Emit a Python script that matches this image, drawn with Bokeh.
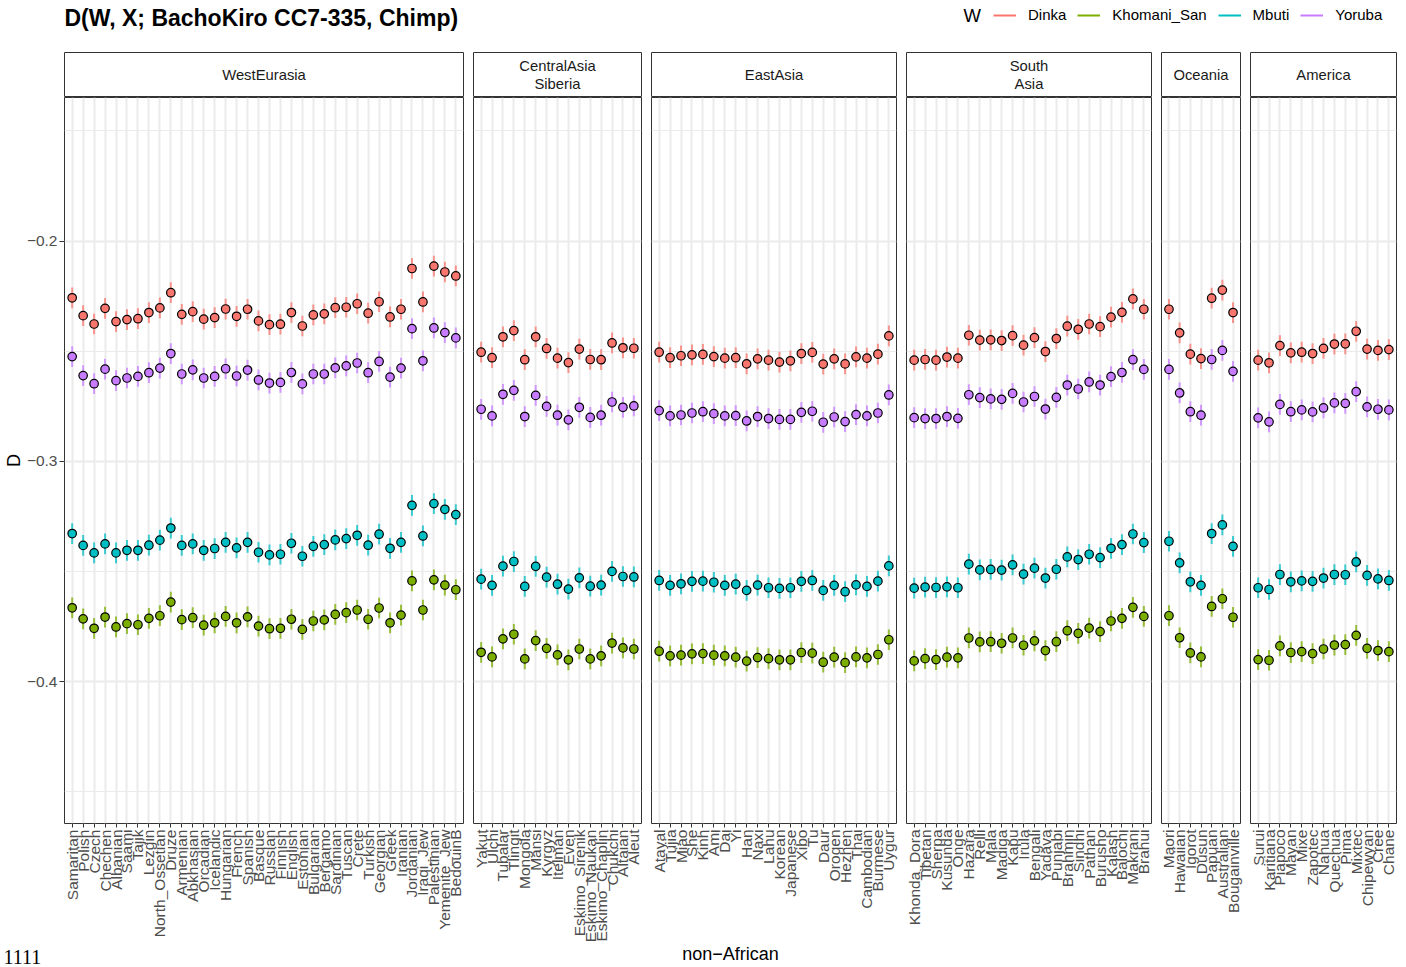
import math
from bokeh.plotting import figure
from bokeh.layouts import column, row
from bokeh.models import (FactorRange, Range1d, FixedTicker, Grid, Legend, LegendItem,
                          ColumnDataSource, CustomJSTickFormatter)
from bokeh.core.properties import value
from bokeh.embed import file_html
from bokeh.resources import INLINE

FONT = "Liberation Sans"

TITLE = "D(W, X; BachoKiro CC7-335, Chimp)"
X_TITLE = "non\u2212African"
Y_TITLE = "D"
LEGEND_TITLE = "W"
CORNER_TEXT = "1111"

REGIONS = ["WestEurasia", "CentralAsia\nSiberia", "EastAsia", "South\nAsia", "Oceania", "America"]

POP_WE = ["Samaritan", "Polish", "Czech", "Chechen", "Albanian", "Saami", "Tajik", "Lezgin",
          "North_Ossetian", "Druze", "Armenian", "Abkhasian", "Orcadian", "Icelandic", "Hungarian",
          "French", "Spanish", "Basque", "Russian", "Finnish", "English", "Estonian", "Bulgarian",
          "Bergamo", "Sardinian", "Tuscan", "Crete", "Turkish", "Georgian", "Greek", "Iranian",
          "Jordanian", "Iraqi_Jew", "Palestinian", "Yemenite_Jew", "BedouinB"]
POP_CS = ["Yakut", "Ulchi", "Tubalar", "Tlingit", "Mongola", "Mansi", "Kyrgyz", "Itelman", "Even",
          "Eskimo_Sirenik", "Eskimo_Naukan", "Eskimo_Chaplin", "Chukchi", "Altaian", "Aleut"]
POP_EA = ["Atayal", "Tujia", "Miao", "She", "Kinh", "Ami", "Dai", "Yi", "Han", "Naxi", "Lahu",
          "Korean", "Japanese", "Xibo", "Tu", "Daur", "Oroqen", "Hezhen", "Thai", "Cambodian",
          "Burmese", "Uygur"]
POP_SA = ["Khonda_Dora", "Tibetan", "Sherpa", "Kusunda", "Onge", "Hazara", "Relli", "Mala", "Madiga",
          "Kapu", "Irula", "Bengali", "Yadava", "Punjabi", "Brahmin", "Sindhi", "Pathan", "Burusho",
          "Kalash", "Balochi", "Makrani", "Brahui"]
POP_OC = ["Maori", "Hawaiian", "Igorot", "Dusun", "Papuan", "Australian", "Bougainville"]
POP_AM = ["Surui", "Karitiana", "Piapoco", "Mayan", "Mixe", "Zapotec", "Nahua", "Quechua", "Pima",
          "Mixtec", "Chipewyan", "Cree", "Chane"]

W_LEVELS = ["Dinka", "Khomani_San", "Mbuti", "Yoruba"]
W_COLORS = ["#F8766D", "#7CAE00", "#00BFC4", "#C77CFF"]

DINKA = {
    "WE": [-0.2257, -0.2338, -0.2376, -0.2305, -0.2365, -0.2356, -0.2352, -0.2324, -0.2303, -0.2234,
           -0.2332, -0.2320, -0.2354, -0.2347, -0.2308, -0.2341, -0.2309, -0.2362, -0.2379, -0.2377,
           -0.2324, -0.2385, -0.2335, -0.2330, -0.2302, -0.2300, -0.2284, -0.2327, -0.2275, -0.2344,
           -0.2309, -0.2124, -0.2276, -0.2113, -0.2140, -0.2158],
    "CS": [-0.2504, -0.2529, -0.2434, -0.2406, -0.2538, -0.2434, -0.2487, -0.2531, -0.2551, -0.2490,
           -0.2537, -0.2538, -0.2462, -0.2484, -0.2486],
    "EA": [-0.2504, -0.2529, -0.2520, -0.2516, -0.2514, -0.2524, -0.2531, -0.2529, -0.2557, -0.2534,
           -0.2540, -0.2549, -0.2543, -0.2510, -0.2505, -0.2558, -0.2534, -0.2557, -0.2525, -0.2531,
           -0.2513, -0.2430],
    "SA": [-0.2540, -0.2537, -0.2540, -0.2526, -0.2531, -0.2427, -0.2449, -0.2448, -0.2451, -0.2429,
           -0.2472, -0.2438, -0.2501, -0.2442, -0.2386, -0.2400, -0.2376, -0.2388, -0.2345, -0.2323,
           -0.2262, -0.2309],
    "OC": [-0.2309, -0.2416, -0.2513, -0.2533, -0.2259, -0.2222, -0.2324],
    "AM": [-0.2540, -0.2552, -0.2474, -0.2507, -0.2504, -0.2510, -0.2487, -0.2467, -0.2466, -0.2409,
           -0.2490, -0.2496, -0.2492],
}
KHOMANI_SAN = {
    "WE": [-0.3664, -0.3714, -0.3757, -0.3706, -0.3751, -0.3736, -0.3741, -0.3712, -0.3700, -0.3638,
           -0.3718, -0.3709, -0.3743, -0.3732, -0.3703, -0.3732, -0.3705, -0.3747, -0.3759, -0.3757,
           -0.3716, -0.3762, -0.3724, -0.3719, -0.3694, -0.3686, -0.3674, -0.3716, -0.3665, -0.3732,
           -0.3697, -0.3542, -0.3674, -0.3537, -0.3561, -0.3582],
    "CS": [-0.3866, -0.3887, -0.3805, -0.3784, -0.3896, -0.3813, -0.3848, -0.3878, -0.3900, -0.3851,
           -0.3896, -0.3882, -0.3824, -0.3846, -0.3851],
    "EA": [-0.3861, -0.3882, -0.3879, -0.3873, -0.3872, -0.3879, -0.3882, -0.3888, -0.3906, -0.3890,
           -0.3895, -0.3900, -0.3900, -0.3867, -0.3870, -0.3911, -0.3888, -0.3913, -0.3887, -0.3891,
           -0.3876, -0.3809],
    "SA": [-0.3905, -0.3895, -0.3899, -0.3888, -0.3891, -0.3801, -0.3819, -0.3818, -0.3825, -0.3801,
           -0.3834, -0.3814, -0.3858, -0.3818, -0.3768, -0.3780, -0.3756, -0.3772, -0.3724, -0.3712,
           -0.3662, -0.3703],
    "OC": [-0.3700, -0.3800, -0.3869, -0.3887, -0.3658, -0.3623, -0.3707],
    "AM": [-0.3899, -0.3902, -0.3837, -0.3867, -0.3863, -0.3872, -0.3851, -0.3833, -0.3831, -0.3789,
           -0.3848, -0.3858, -0.3863],
}
MBUTI = {
    "WE": [-0.3327, -0.3381, -0.3415, -0.3374, -0.3415, -0.3403, -0.3403, -0.3380, -0.3357, -0.3302,
           -0.3381, -0.3374, -0.3403, -0.3395, -0.3367, -0.3392, -0.3367, -0.3412, -0.3424, -0.3421,
           -0.3371, -0.3430, -0.3385, -0.3377, -0.3356, -0.3350, -0.3335, -0.3380, -0.3330, -0.3394,
           -0.3367, -0.3199, -0.3338, -0.3191, -0.3217, -0.3241],
    "CS": [-0.3534, -0.3562, -0.3475, -0.3454, -0.3567, -0.3476, -0.3525, -0.3557, -0.3579, -0.3528,
           -0.3566, -0.3561, -0.3499, -0.3522, -0.3524],
    "EA": [-0.3540, -0.3562, -0.3555, -0.3544, -0.3543, -0.3548, -0.3562, -0.3557, -0.3585, -0.3561,
           -0.3573, -0.3576, -0.3573, -0.3544, -0.3540, -0.3585, -0.3562, -0.3591, -0.3560, -0.3567,
           -0.3543, -0.3474],
    "SA": [-0.3575, -0.3570, -0.3572, -0.3569, -0.3573, -0.3466, -0.3492, -0.3490, -0.3493, -0.3469,
           -0.3511, -0.3484, -0.3529, -0.3489, -0.3433, -0.3445, -0.3421, -0.3436, -0.3394, -0.3377,
           -0.3329, -0.3368],
    "OC": [-0.3362, -0.3460, -0.3546, -0.3562, -0.3327, -0.3288, -0.3385],
    "AM": [-0.3573, -0.3581, -0.3513, -0.3546, -0.3542, -0.3544, -0.3529, -0.3513, -0.3514, -0.3456,
           -0.3517, -0.3533, -0.3540],
}
YORUBA = {
    "WE": [-0.2524, -0.2610, -0.2647, -0.2581, -0.2633, -0.2621, -0.2614, -0.2597, -0.2576, -0.2510,
           -0.2603, -0.2584, -0.2621, -0.2614, -0.2579, -0.2612, -0.2585, -0.2630, -0.2644, -0.2641,
           -0.2596, -0.2648, -0.2603, -0.2603, -0.2575, -0.2566, -0.2553, -0.2597, -0.2546, -0.2617,
           -0.2576, -0.2397, -0.2543, -0.2394, -0.2415, -0.2439],
    "CS": [-0.2763, -0.2793, -0.2695, -0.2677, -0.2796, -0.2700, -0.2750, -0.2790, -0.2811, -0.2754,
           -0.2800, -0.2790, -0.2730, -0.2754, -0.2748],
    "EA": [-0.2769, -0.2793, -0.2789, -0.2780, -0.2774, -0.2783, -0.2793, -0.2792, -0.2816, -0.2796,
           -0.2805, -0.2809, -0.2809, -0.2777, -0.2772, -0.2822, -0.2798, -0.2819, -0.2787, -0.2793,
           -0.2780, -0.2698],
    "SA": [-0.2801, -0.2805, -0.2805, -0.2796, -0.2804, -0.2697, -0.2710, -0.2716, -0.2718, -0.2691,
           -0.2730, -0.2705, -0.2762, -0.2709, -0.2653, -0.2671, -0.2639, -0.2653, -0.2615, -0.2596,
           -0.2538, -0.2582],
    "OC": [-0.2582, -0.2689, -0.2774, -0.2790, -0.2537, -0.2496, -0.2591],
    "AM": [-0.2802, -0.2820, -0.2741, -0.2774, -0.2766, -0.2775, -0.2757, -0.2734, -0.2736, -0.2683,
           -0.2752, -0.2763, -0.2766],
}
ERR = 0.0047  # half-width of the error bars

Y_TICKS = [-0.4, -0.3, -0.2]
Y_MINOR = [-0.45, -0.35, -0.25, -0.15]
Y_START, Y_END = -0.4643, -0.1348

# ---------------- layout constants ----------------
KEYS = ["WE", "CS", "EA", "SA", "OC", "AM"]
POPS = [POP_WE, POP_CS, POP_EA, POP_SA, POP_OC, POP_AM]
SERIES = [DINKA, KHOMANI_SAN, MBUTI, YORUBA]

AXIS_W = 64      # left edge of the first panel frame
GAP_HALF = 5
TOTAL_FRAMES = 1332 - 5 * 2 * GAP_HALF
units = [len(p) + 0.2 for p in POPS]
unit_px = TOTAL_FRAMES / sum(units)
frame_w = [round(u * unit_px) for u in units]
frame_w[0] += TOTAL_FRAMES - sum(frame_w)

HEADER_H = 52
STRIP_H = 45
PANEL_FRAME_H = 728
PANEL_BOTTOM = 120
FOOTER_H = 22

GRID_COL = "#EBEBEB"
BORDER_COL = "#333333"

shared_y = Range1d(Y_START, Y_END)
yticker = FixedTicker(ticks=Y_TICKS, minor_ticks=Y_MINOR)

panels, strips = [], []
for i, (key, pops, region) in enumerate(zip(KEYS, POPS, REGIONS)):
    first = i == 0
    left = AXIS_W if first else GAP_HALF
    right = GAP_HALF
    fw = frame_w[i]

    p = figure(x_range=FactorRange(factors=pops, range_padding=0.2, range_padding_units="absolute"),
               y_range=shared_y, width=left + fw + right, height=PANEL_FRAME_H + PANEL_BOTTOM,
               output_backend="svg", toolbar_location=None, tools="",
               y_axis_location="left" if first else None,
               min_border_left=left, min_border_right=right, min_border_top=0,
               min_border_bottom=PANEL_BOTTOM)
    p.outline_line_color = BORDER_COL
    p.outline_line_width = 1
    p.background_fill_color = "white"
    p.border_fill_color = "white"
    p.ygrid.visible = False
    p.xgrid.grid_line_color = GRID_COL
    p.xgrid.grid_line_width = 2
    p.add_layout(Grid(dimension=1, ticker=yticker, grid_line_color=GRID_COL, grid_line_width=2,
                      minor_grid_line_color=GRID_COL, minor_grid_line_width=1))

    xa = p.xaxis[0]
    xa.major_label_orientation = math.pi / 2
    xa.major_label_text_font = FONT
    xa.major_label_text_font_size = "15.5px"
    xa.major_label_text_color = "#4D4D4D"
    xa.major_label_standoff = 2
    xa.axis_line_color = None
    xa.major_tick_line_color = BORDER_COL
    xa.major_tick_in = 0
    xa.major_tick_out = 4
    xa.minor_tick_line_color = None

    if first:
        ya = p.yaxis[0]
        ya.ticker = yticker
        ya.formatter = CustomJSTickFormatter(
            code="return (tick < 0 ? '\u2212' : '') + Math.abs(tick).toFixed(1);")
        ya.major_label_text_font = FONT
        ya.major_label_text_font_size = "15.5px"
        ya.major_label_text_color = "#4D4D4D"
        ya.major_label_standoff = 2
        ya.axis_line_color = None
        ya.major_tick_line_color = BORDER_COL
        ya.major_tick_in = 0
        ya.major_tick_out = 5
        ya.minor_tick_line_color = None
        ya.axis_label = Y_TITLE
        ya.axis_label_text_font = FONT
        ya.axis_label_text_font_size = "18px"
        ya.axis_label_text_font_style = "normal"
        ya.axis_label_text_color = "black"
        ya.axis_label_standoff = 0

    sources = []
    for ser in SERIES:
        vals = ser[key]
        sources.append(ColumnDataSource(dict(
            x=pops, y=vals, lo=[v - ERR for v in vals], hi=[v + ERR for v in vals])))
    for src, col in zip(sources, W_COLORS):
        p.segment(x0="x", y0="lo", x1="x", y1="hi", source=src, line_color=col,
                  line_width=2, line_alpha=0.75)
    for src, col in zip(sources, W_COLORS):
        p.scatter(x="x", y="y", source=src, size=8.5, fill_color=col, line_color="black",
                  line_width=1.2)
    panels.append(p)

    s = figure(width=left + fw + right, height=STRIP_H, x_range=Range1d(0, 1), y_range=Range1d(0, 1),
               output_backend="svg", toolbar_location=None, tools="",
               x_axis_location=None, y_axis_location=None,
               min_border_left=left, min_border_right=right, min_border_top=0, min_border_bottom=0)
    s.grid.visible = False
    s.outline_line_color = BORDER_COL
    s.outline_line_width = 1
    s.background_fill_color = "white"
    s.text(x=[0.5], y=[0.5], text=[region], text_align="center", text_baseline="middle",
           text_font=value(FONT), text_font_size="14.8px", text_color="#1A1A1A",
           text_line_height=1.1)
    strips.append(s)

TOTAL_W = sum(p.width for p in panels)

# ---------------- header: title + legend ----------------
h = figure(width=TOTAL_W, height=HEADER_H, x_range=Range1d(0, TOTAL_W), y_range=Range1d(0, HEADER_H),
           output_backend="svg", toolbar_location=None, tools="",
           x_axis_location=None, y_axis_location=None,
           min_border_left=0, min_border_right=0, min_border_top=0, min_border_bottom=0)
h.grid.visible = False
h.outline_line_color = None
h.text(x=[AXIS_W], y=[HEADER_H - 17], text=[TITLE], text_font=value(FONT), text_font_style="bold",
       text_font_size="23px", text_baseline="middle", text_color="black")
h.text(x=[963], y=[HEADER_H - 15], text=[LEGEND_TITLE], text_font=value(FONT),
       text_font_size="18.5px", text_baseline="middle", text_color="black")
items = []
for lvl, col in zip(W_LEVELS, W_COLORS):
    r = h.line(x=[-20, -10], y=[-20, -20], line_color=col, line_width=2)
    items.append(LegendItem(label=lvl, renderers=[r]))
leg = Legend(items=items, orientation="horizontal", location=(993, HEADER_H - 23),
             glyph_width=23, glyph_height=16, label_standoff=12, spacing=11, padding=0, margin=0,
             label_text_font=FONT, label_text_font_size="15px", label_text_color="black",
             label_height=16, border_line_color=None, background_fill_alpha=0)
h.add_layout(leg)

# ---------------- footer: x-axis title + corner text ----------------
f = figure(width=TOTAL_W, height=FOOTER_H, x_range=Range1d(0, TOTAL_W), y_range=Range1d(0, FOOTER_H),
           output_backend="svg", toolbar_location=None, tools="",
           x_axis_location=None, y_axis_location=None,
           min_border_left=0, min_border_right=0, min_border_top=0, min_border_bottom=0)
f.grid.visible = False
f.outline_line_color = None
f.text(x=[730], y=[FOOTER_H - 8], text=[X_TITLE], text_font=value(FONT), text_font_size="18px",
       text_align="center", text_baseline="middle", text_color="black")
f.text(x=[3], y=[FOOTER_H / 2], text=[CORNER_TEXT], text_font=value("Liberation Serif"),
       text_font_size="20px", text_baseline="middle", text_color="black")

layout = column(h, row(*strips), row(*panels), f)
open("out.html", "w").write(file_html(layout, INLINE))
